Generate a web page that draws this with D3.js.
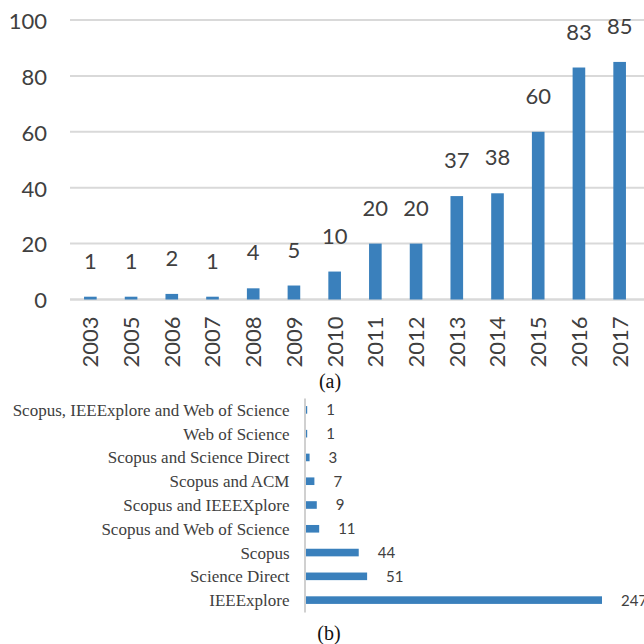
<!DOCTYPE html>
<html>
<head>
<meta charset="utf-8">
<script src="https://cdn.jsdelivr.net/npm/d3@7/dist/d3.min.js"></script>
<style>
html,body{margin:0;padding:0;background:#fff;}
svg{display:block;}
</style>
</head>
<body>
<svg id="c" width="644" height="644"></svg>
<script>
// ---- Data (a) ----
const years = ["2003","2005","2006","2007","2008","2009","2010","2011","2012","2013","2014","2015","2016","2017"];
const yearCounts = [1,1,2,1,4,5,10,20,20,37,38,60,83,85];
const yTicks = [0,20,40,60,80,100];

// ---- Data (b) ----
const sources = ["Scopus, IEEExplore and Web of Science","Web of Science","Scopus and Science Direct","Scopus and ACM","Scopus and IEEEXplore","Scopus and Web of Science","Scopus","Science Direct","IEEExplore"];
const sourceCounts = [1,1,3,7,9,11,44,51,247];

const captions = ["(a)","(b)"];

const BLUE = "#3a80bc";
const TXT = "#404040";
const sans = "Lato, 'Open Sans', sans-serif";
const serif = "'Liberation Serif', 'Times New Roman', serif";

const svg = d3.select("#c");

// ===== Chart (a) =====
const x = d3.scaleBand().domain(years).range([70, 640]).paddingInner(0.69).paddingOuter(0.345);
const y = d3.scaleLinear().domain([0, 100]).range([299.5, 20]);

const gA = svg.append("g");
gA.selectAll("line.grid").data(yTicks).join("line")
  .attr("x1", 70).attr("x2", 644)
  .attr("y1", d => y(d)).attr("y2", d => y(d))
  .attr("stroke", "#d9d9d9").attr("stroke-width", d => d === 0 ? 2.5 : 2);

const yAxis = d3.axisLeft(y).tickValues(yTicks).tickSize(0).tickPadding(23);
const ya = gA.append("g").attr("transform", "translate(70,0)").call(yAxis);
ya.select(".domain").remove();
ya.selectAll("text").attr("font-family", sans).attr("font-size", 22).attr("fill", TXT).attr("dy", "0.38em");

gA.selectAll("rect.bar").data(years).join("rect")
  .attr("x", (d) => x(d)).attr("width", x.bandwidth())
  .attr("y", (d, i) => y(yearCounts[i]))
  .attr("height", (d, i) => y(0) - y(yearCounts[i]))
  .attr("fill", BLUE);

gA.selectAll("text.val").data(years).join("text")
  .attr("x", d => x(d) + x.bandwidth() / 2)
  .attr("y", (d, i) => y(yearCounts[i]) - 28)
  .attr("text-anchor", "middle")
  .attr("font-family", sans).attr("font-size", 22).attr("fill", TXT)
  .text((d, i) => yearCounts[i]);

const xAxis = d3.axisBottom(x).tickSize(0).tickPadding(0);
const xa = gA.append("g").attr("transform", `translate(0,${y(0)})`).call(xAxis);
xa.select(".domain").remove();
xa.selectAll("text")
  .attr("font-family", sans).attr("font-size", 22).attr("fill", TXT)
  .attr("text-anchor", "end")
  .attr("transform", "rotate(-90)")
  .attr("x", -17).attr("y", 0).attr("dy", "0.36em");

svg.append("text").attr("x", 330).attr("y", 388).attr("text-anchor", "middle")
  .attr("font-family", serif).attr("font-size", 20).attr("fill", "#111").text(captions[0]);

// ===== Chart (b) =====
const yb = d3.scaleBand().domain(sources).range([398, 612]).paddingInner(0.68).paddingOuter(0.34);
const xb = d3.scaleLinear().domain([0, 247]).range([306, 602]);

const gB = svg.append("g");
gB.selectAll("rect.bar").data(sources).join("rect")
  .attr("x", xb(0)).attr("y", d => yb(d))
  .attr("width", (d, i) => xb(sourceCounts[i]) - xb(0))
  .attr("height", yb.bandwidth())
  .attr("fill", BLUE);

const yAxisB = d3.axisLeft(yb).tickSize(0).tickPadding(15);
const yba = gB.append("g").attr("transform", "translate(304.5,0)").call(yAxisB);
yba.select(".domain").attr("stroke", "#d0d0d0").attr("stroke-width", 2);
yba.selectAll("text").attr("font-family", serif).attr("font-size", 17).attr("fill", TXT).attr("dy", "0.35em");

gB.selectAll("text.val").data(sources).join("text")
  .attr("x", (d, i) => xb(sourceCounts[i]) + 19)
  .attr("y", d => yb(d) + yb.bandwidth() / 2)
  .attr("dy", "0.36em")
  .attr("font-family", sans).attr("font-size", 15).attr("fill", TXT)
  .text((d, i) => sourceCounts[i]);

svg.append("text").attr("x", 329).attr("y", 640).attr("text-anchor", "middle")
  .attr("font-family", serif).attr("font-size", 20).attr("fill", "#111").text(captions[1]);
</script>
</body>
</html>
